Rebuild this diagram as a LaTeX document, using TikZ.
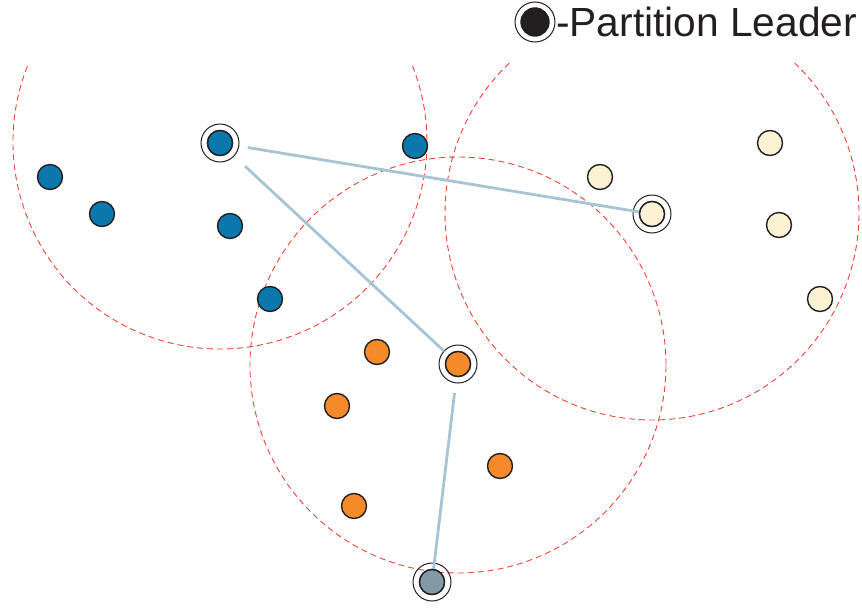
\documentclass[tikz,border=0pt]{standalone}
\usepackage{fontspec}
\setmainfont{Liberation Sans}
\begin{document}
\begin{tikzpicture}[x=1pt,y=-1pt]
\definecolor{nblue}{HTML}{0A78AD}
\definecolor{norange}{HTML}{F58A2A}
\definecolor{nyellow}{HTML}{FBF1D3}
\definecolor{ngrey}{HTML}{8299A7}
\definecolor{nlink}{HTML}{A6C4D4}
\definecolor{nred}{HTML}{EE4035}
\definecolor{nout}{HTML}{231F20}
\tikzset{
  member/.style={circle, draw=nout, line width=1.4pt, minimum size=25pt, inner sep=0pt},
  ring/.style={draw=nout, line width=1pt},
  link/.style={draw=nlink, line width=2.8pt},
  zone/.style={draw=nred, line width=0.9pt, dash pattern=on 6pt off 4pt},
}
\useasboundingbox (0,0) rectangle (862,608);
% partition zones
\coordinate (zb) at (220,142);
\coordinate (zy) at (652,213);
\coordinate (zo) at (458,365);
\draw[zone] (zb) ++(158.5:207pt) arc[start angle=158.5, end angle=382, radius=207pt];
\draw[zone] (zy) ++(133.6:207pt) arc[start angle=133.6, end angle=406.4, radius=207pt];
\draw[zone] (zo) circle[radius=208pt];
% nodes
\node[member, fill=nblue] (bl) at (220,143) {};
\node[member, fill=nblue] (b1) at (50,177) {};
\node[member, fill=nblue] (b2) at (102,214) {};
\node[member, fill=nblue] (b3) at (230,226) {};
\node[member, fill=nblue] (b4) at (270,299) {};
\node[member, fill=nblue] (b5) at (415,146) {};
\node[member, fill=norange] (ol) at (458,364) {};
\node[member, fill=norange] (o1) at (377,352) {};
\node[member, fill=norange] (o2) at (337,406) {};
\node[member, fill=norange] (o3) at (500,466) {};
\node[member, fill=norange] (o4) at (354,506) {};
\node[member, fill=nyellow] (yl) at (652,214) {};
\node[member, fill=nyellow] (y1) at (600,177) {};
\node[member, fill=nyellow] (y2) at (770,143) {};
\node[member, fill=nyellow] (y3) at (779,225) {};
\node[member, fill=nyellow] (y4) at (820,299) {};
\node[member, fill=ngrey] (gl) at (432,582) {};
% leader rings
\foreach \n in {bl,ol,yl,gl} \draw[ring] (\n.center) circle[radius=19pt];
% links
\draw[link, shorten <=15pt] (bl) -- (yl);
\draw[link, shorten <=21pt, shorten >=6pt] (bl) -- (ol);
\draw[link, shorten <=16pt] (ol) -- (gl);
% redraw leader circles on top of links
\foreach \n/\c in {bl/nblue,ol/norange,yl/nyellow,gl/ngrey}
  \node[member, fill=\c] (\n top) at (\n.center) {};
% legend
\node[member, fill=nout, minimum size=28pt] (lg) at (535,22) {};
\draw[ring] (lg.center) circle[radius=20pt];
\node[anchor=base west, inner sep=0pt, font=\fontsize{40.7}{44}\selectfont, text=nout] (lt) at (556,36) {-Partition Leader};
\end{tikzpicture}
\end{document}
